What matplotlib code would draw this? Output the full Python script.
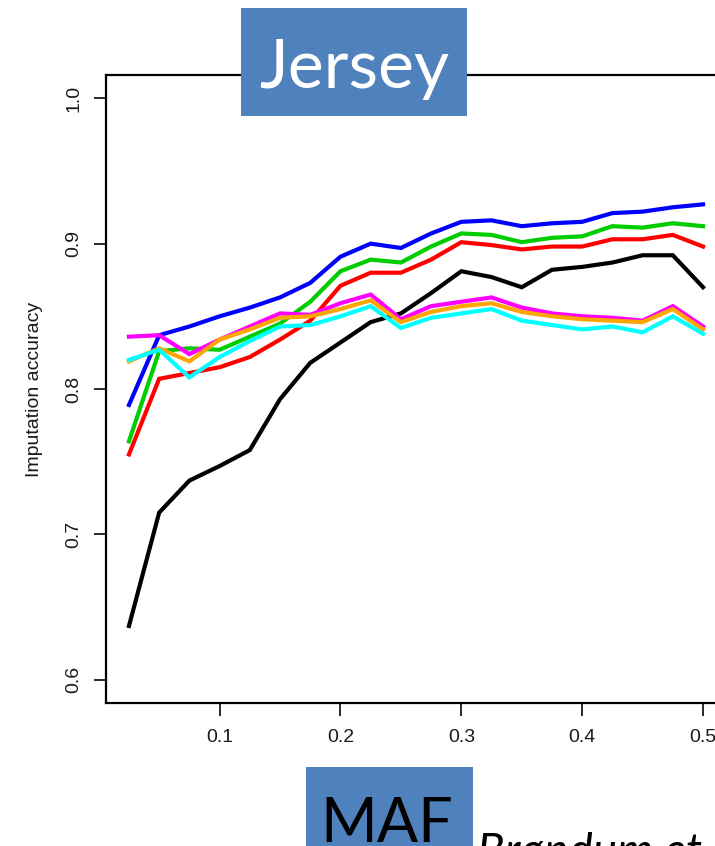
import matplotlib.pyplot as plt
from matplotlib.patches import Rectangle

# MAF bins (x) and imputation accuracy per scenario
maf = [0.025, 0.05, 0.075, 0.1, 0.125, 0.15, 0.175, 0.2, 0.225, 0.25,
       0.275, 0.3, 0.325, 0.35, 0.375, 0.4, 0.425, 0.45, 0.475, 0.5]

acc_black = [0.637, 0.715, 0.737, 0.747, 0.758, 0.793, 0.818, 0.832, 0.846, 0.852,
             0.866, 0.881, 0.877, 0.870, 0.882, 0.884, 0.887, 0.892, 0.892, 0.870]
acc_red = [0.755, 0.807, 0.811, 0.815, 0.822, 0.834, 0.847, 0.871, 0.880, 0.880,
           0.889, 0.901, 0.899, 0.896, 0.898, 0.898, 0.903, 0.903, 0.906, 0.898]
acc_green = [0.764, 0.826, 0.828, 0.827, 0.836, 0.845, 0.860, 0.881, 0.889, 0.887,
             0.898, 0.907, 0.906, 0.901, 0.904, 0.905, 0.912, 0.911, 0.914, 0.912]
acc_blue = [0.789, 0.837, 0.843, 0.850, 0.856, 0.863, 0.873, 0.891, 0.900, 0.897,
            0.907, 0.915, 0.916, 0.912, 0.914, 0.915, 0.921, 0.922, 0.925, 0.927]
acc_magenta = [0.836, 0.837, 0.824, 0.834, 0.843, 0.852, 0.851, 0.859, 0.865, 0.848,
               0.857, 0.860, 0.863, 0.856, 0.852, 0.850, 0.849, 0.847, 0.857, 0.843]
acc_orange = [0.819, 0.828, 0.819, 0.834, 0.841, 0.849, 0.850, 0.855, 0.861, 0.846,
              0.853, 0.857, 0.859, 0.853, 0.850, 0.848, 0.847, 0.846, 0.855, 0.841]
acc_cyan = [0.820, 0.827, 0.808, 0.822, 0.833, 0.843, 0.844, 0.850, 0.857, 0.842,
            0.849, 0.852, 0.855, 0.847, 0.844, 0.841, 0.843, 0.839, 0.850, 0.838]

series = [
    (acc_black, 'black'),
    (acc_red, '#FF0000'),
    (acc_green, '#00CD00'),
    (acc_blue, '#0000FF'),
    (acc_magenta, '#FF00FF'),
    (acc_orange, '#FFA500'),
    (acc_cyan, '#00FFFF'),
]

xticks = [0.1, 0.2, 0.3, 0.4, 0.5]
yticks = [0.6, 0.7, 0.8, 0.9, 1.0]

plt.rcParams['font.family'] = ['Liberation Sans', 'DejaVu Sans']

W, H = 715, 846
fig = plt.figure(figsize=(W / 100, H / 100), dpi=100)
# axes box in pixels: left 106, right ~726 (past the edge), top 75, bottom 703
ax = fig.add_axes([106 / W, 1 - 703 / H, 620 / W, 628 / H])

for vals, col in series:
    ax.plot(maf, vals, color=col, lw=3, solid_joinstyle='miter')

ax.set_xlim(0.006, 0.519)
ax.set_ylim(0.584, 1.016)
ax.set_xticks(xticks)
ax.set_xticklabels([f"{t:.1f}" for t in xticks])
ax.set_yticks(yticks)
ax.set_yticklabels([f"{t:.1f}" for t in yticks], rotation=90, va='center')

for sp in ax.spines.values():
    sp.set_linewidth(1.6)
ax.tick_params(axis='both', length=9, width=1.3, labelsize=14, colors='#1a1a1a')
ax.tick_params(axis='x', pad=10)
ax.tick_params(axis='y', pad=8)

ax.set_ylabel("Imputation accuracy", fontsize=14, labelpad=16, color='#1a1a1a')

# "Jersey" banner
fig.patches.append(Rectangle((241 / W, 1 - 116 / H), 226 / W, 108 / H,
                             transform=fig.transFigure, facecolor='#4F81BD',
                             edgecolor='none', zorder=5))
fig.text(354 / W, 1 - 88 / H, "Jersey", family='Lato', fontsize=49,
         color='white', ha='center', va='baseline', zorder=6)

# "MAF" banner at the bottom
fig.patches.append(Rectangle((306 / W, 0), 167 / W, (H - 767) / H,
                             transform=fig.transFigure, facecolor='#4F81BD',
                             edgecolor='none', zorder=5))
fig.text(387 / W, 1 - 842 / H, "MAF", family='Lato', fontsize=44,
         color='black', ha='center', va='baseline', zorder=6)

fig.text(477 / W, 1 - 866 / H, "Brøndum et al.", family='Lato', style='italic',
         fontsize=33, color='black', ha='left', va='baseline')

fig.savefig("out.png", dpi=100)
